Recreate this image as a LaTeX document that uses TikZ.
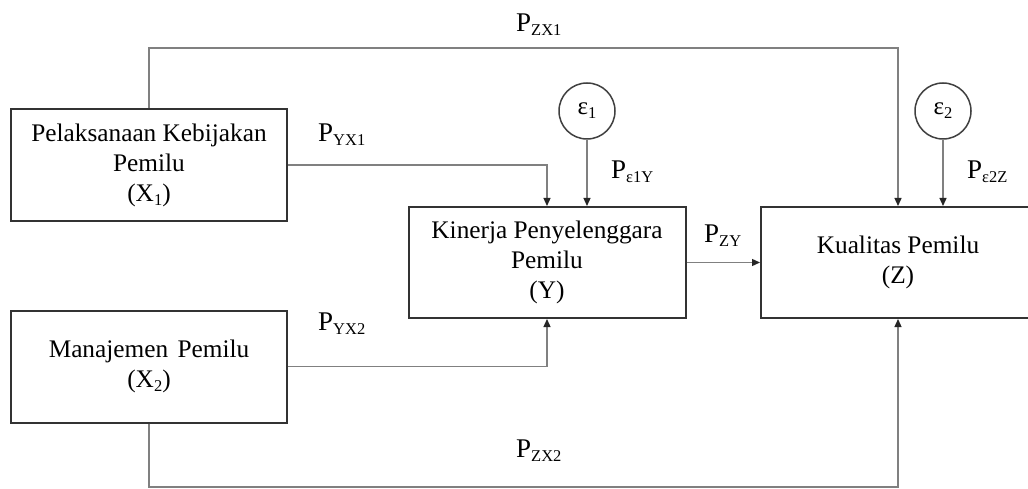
\documentclass[tikz,border=0pt]{standalone}
\usepackage{fontspec}
\setmainfont{Liberation Serif}
\usetikzlibrary{arrows.meta}

% small lowered index, used in box texts and path labels
\newcommand{\lowsub}[1]{\raisebox{-4pt}{\fontsize{16.5}{16.5}\selectfont #1}}
% path coefficient P with its index
\newcommand{\pth}[1]{P\lowsub{#1}}

\begin{document}
\begin{tikzpicture}[x=1pt,y=-1pt,
  box/.style={draw=black!80,line width=2pt,minimum width=276pt,minimum height=112pt,
    align=center,inner sep=0pt,font=\fontsize{25.3}{30}\selectfont},
  err/.style={draw=black!75,line width=1.5pt,circle,minimum size=56pt,inner sep=0pt,
    font=\fontsize{25}{30}\selectfont},
  conn/.style={draw=black!50,line width=1.3pt},
  arr/.style={conn,-{Triangle[length=8pt,width=7pt,color=black!85]}},
  lbl/.style={anchor=base west,inner sep=0pt,font=\fontsize{27}{30}\selectfont}]

\useasboundingbox (0,0) rectangle (1028,489);
\fill[white] (0,0) rectangle (1028,489);

\begin{scope}
\clip (0,0) rectangle (1028,489);

% variables
\node[box] (X1) at (149,165) {Pelaksanaan Kebijakan\\Pemilu\\(X\lowsub{1})};
\node[box] (X2) at (149,366.5) {Manajemen\hspace{0.12em} Pemilu\\(X\lowsub{2})};
\node[box,minimum width=277pt,minimum height=111pt] (Y) at (547,262.5)
  {Kinerja Penyelenggara\\Pemilu\\(Y)};
\node[box,minimum width=274pt,minimum height=111pt] (Z) at (898,262.5)
  {Kualitas Pemilu\\(Z)};

% residuals
\node[err] (e1) at (587,111) {ε\lowsub{1}};
\node[err] (e2) at (943,111) {ε\lowsub{2}};

% routing levels of the outer paths
\coordinate (top) at (0,48);
\coordinate (bot) at (0,487);

% paths
\draw[arr] (X1.north) -- (X1.north |- top) -| (Z.north);
\draw[arr] (X2.south) -- (X2.south |- bot) -| (Z.south);
\draw[arr] (X1.east) -| (Y.north);
\draw[arr] (X2.east) -| (Y.south);
\draw[arr] (e1.south) -- (e1.south |- Y.north);
\draw[arr] (e2.south) -- (e2.south |- Z.north);
\draw[arr] (Y.east) -- (Z.west);

% path coefficients
\node[lbl] (lZX1) at (516,32)  {\pth{ZX1}};
\node[lbl] (lYX1) at (318,142) {\pth{YX1}};
\node[lbl] (le1Y) at (611,179) {\pth{ε1Y}};
\node[lbl] (lZY)  at (704,243) {\pth{ZY}};
\node[lbl] (le2Z) at (967,179) {\pth{ε2Z}};
\node[lbl] (lYX2) at (318,330) {\pth{YX2}};
\node[lbl] (lZX2) at (516,457) {\pth{ZX2}};
\end{scope}
\end{tikzpicture}
\end{document}
